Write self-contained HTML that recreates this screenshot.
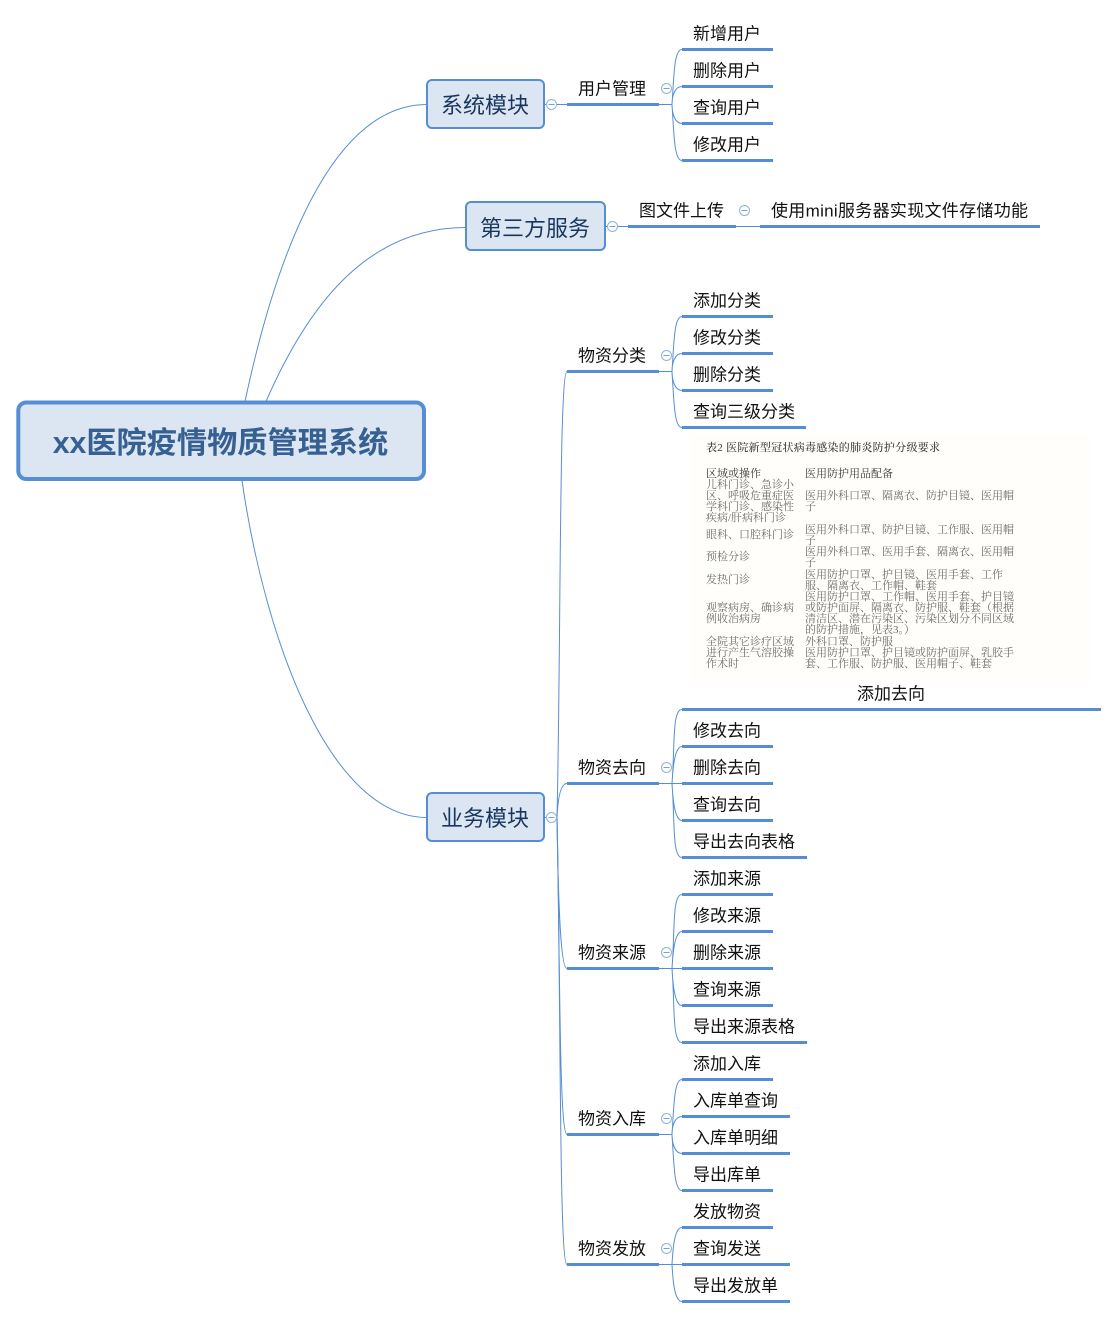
<!DOCTYPE html>
<html lang="zh">
<head>
<meta charset="utf-8">
<style>
html,body{margin:0;padding:0;background:#fff}
svg{display:block}
text{font-family:"Liberation Sans","Noto Sans CJK SC",sans-serif;fill:#111;font-size:17px}
.th{stroke:#558ed5;stroke-width:3;fill:none}
.tn{stroke:#558ed5;stroke-width:1;fill:none}
.box{fill:#dce6f2;stroke:#558ed5;stroke-width:2}
.mod{font-size:22px;fill:#17375e;text-anchor:middle}
.c{fill:#fff;stroke:#8db3e2;stroke-width:1}
.m{stroke:#7d9fcc;stroke-width:1}
.t text{font-family:"Liberation Serif","Noto Serif CJK SC",serif;font-size:11px;fill:#6e6e6e}
.t .h{fill:#3a3a3a}
</style>
</head>
<body>
<svg width="1119" height="1318" viewBox="0 0 1119 1318" xmlns="http://www.w3.org/2000/svg">
<rect x="690" y="434" width="400" height="248" fill="#fffefa"/>

<g transform="translate(0,0.5)">
<!-- root curves -->
<path class="tn" d="M245 401C275 260 330 104 427 104"/>
<path class="tn" d="M266 401C310 300 370 227 466 227"/>
<path class="tn" d="M242 480C265 640 330 817 427 817"/>

<!-- trunk -->
<path class="tn" d="M544 104H567"/>
<path class="tn" d="M605 226H628"/>
<path class="tn" d="M736 226H760"/>
<path class="tn" d="M544 817H557"/>
<path class="tn" d="M557 817C561 640 559 371 567 371"/>
<path class="tn" d="M557 817C558 795 561 783 567 783"/>
<path class="tn" d="M557 817C558 890 560 968 567 968"/>
<path class="tn" d="M557 817C560 950 559 1134 567 1134"/>
<path class="tn" d="M557 817C561 1000 559 1264 567 1264"/>

<!-- group 1 -->
<path class="th" d="M567 104H659M682 49H773M682 86H773M682 123H773M682 160H773"/>
<path class="tn" d="M659 104H672M672 104C674 75 674 49 682 49M672 104C672 95 675 86 682 86M672 104C672 113 675 123 682 123M672 104C674 133 674 160 682 160"/>
<!-- third -->
<path class="th" d="M628 226H736M760 226H1040"/>
<!-- 物资分类 -->
<path class="th" d="M567 371H659M682 316H773M682 353H773M682 390H773M682 427H806"/>
<path class="tn" d="M659 371H672M672 371C674 342 674 316 682 316M672 371C672 362 675 353 682 353M672 371C672 380 675 390 682 390M672 371C674 400 674 427 682 427"/>
<!-- 物资去向 -->
<path class="th" d="M567 783H659M682 709H1101M682 746H773M682 783H773M682 820H773M682 857H807"/>
<path class="tn" d="M659 783H682M672 783C675 745 672 709 682 709M672 783C673 765 675 746 682 746M672 783C673 801 675 820 682 820M672 783C675 821 672 857 682 857"/>
<!-- 物资来源 -->
<path class="th" d="M567 968H659M682 894H773M682 931H773M682 968H773M682 1005H773M682 1042H807"/>
<path class="tn" d="M659 968H682M672 968C675 930 672 894 682 894M672 968C673 950 675 931 682 931M672 968C673 986 675 1005 682 1005M672 968C675 1006 672 1042 682 1042"/>
<!-- 物资入库 -->
<path class="th" d="M567 1134H659M682 1079H773M682 1116H790M682 1153H790M682 1190H773"/>
<path class="tn" d="M659 1134H672M672 1134C674 1105 674 1079 682 1079M672 1134C672 1125 675 1116 682 1116M672 1134C672 1143 675 1153 682 1153M672 1134C674 1163 674 1190 682 1190"/>
<!-- 物资发放 -->
<path class="th" d="M567 1264H659M682 1227H773M682 1264H790M682 1301H790"/>
<path class="tn" d="M659 1264H682M672 1264C673 1245 675 1227 682 1227M672 1264C673 1283 675 1301 682 1301"/>
</g>

<!-- boxes -->
<rect x="18.300" y="402.500" width="405.700" height="76.500" rx="8" fill="#dce6f2" stroke="#558ed5" stroke-width="4"/>
<text x="220.500" y="453" text-anchor="middle" style="font-size:30.200px;font-weight:bold;fill:#366092">xx医院疫情物质管理系统</text>
<rect class="box" x="427" y="80" width="117" height="48" rx="5"/>
<text class="mod" x="485" y="113">系统模块</text>
<rect class="box" x="466" y="202" width="139" height="48" rx="5"/>
<text class="mod" x="535" y="236">第三方服务</text>
<rect class="box" x="427" y="793" width="117" height="48" rx="5"/>
<text class="mod" x="485" y="826">业务模块</text>

<!-- collapse markers -->
<g transform="translate(0.500,0.500)">
<circle class="c" cx="551" cy="104" r="5"/><path class="m" d="M548 104H554"/>
<circle class="c" cx="612" cy="226" r="5"/><path class="m" d="M609 226H615"/>
<circle class="c" cx="551" cy="817" r="5"/><path class="m" d="M548 817H554"/>
<circle class="c" cx="666" cy="88" r="5"/><path class="m" d="M663 88H669"/>
<circle class="c" cx="744" cy="210" r="5"/><path class="m" d="M741 210H747"/>
<circle class="c" cx="666" cy="355" r="5"/><path class="m" d="M663 355H669"/>
<circle class="c" cx="666" cy="767" r="5"/><path class="m" d="M663 767H669"/>
<circle class="c" cx="666" cy="952" r="5"/><path class="m" d="M663 952H669"/>
<circle class="c" cx="666" cy="1118" r="5"/><path class="m" d="M663 1118H669"/>
<circle class="c" cx="666" cy="1248" r="5"/><path class="m" d="M663 1248H669"/>
</g>

<!-- labels -->
<g transform="translate(0,0.500)">
<text x="578" y="94">用户管理</text>
<text x="693" y="39">新增用户</text>
<text x="693" y="76">删除用户</text>
<text x="693" y="113">查询用户</text>
<text x="693" y="150">修改用户</text>
<text x="639" y="216">图文件上传</text>
<text x="771" y="216" textLength="257">使用mini服务器实现文件存储功能</text>
<text x="578" y="361">物资分类</text>
<text x="693" y="306">添加分类</text>
<text x="693" y="343">修改分类</text>
<text x="693" y="380">删除分类</text>
<text x="693" y="417">查询三级分类</text>
<text x="578" y="773">物资去向</text>
<text x="891" y="699" text-anchor="middle">添加去向</text>
<text x="693" y="736">修改去向</text>
<text x="693" y="773">删除去向</text>
<text x="693" y="810">查询去向</text>
<text x="693" y="847">导出去向表格</text>
<text x="578" y="958">物资来源</text>
<text x="693" y="884">添加来源</text>
<text x="693" y="921">修改来源</text>
<text x="693" y="958">删除来源</text>
<text x="693" y="995">查询来源</text>
<text x="693" y="1032">导出来源表格</text>
<text x="578" y="1124">物资入库</text>
<text x="693" y="1069">添加入库</text>
<text x="693" y="1106">入库单查询</text>
<text x="693" y="1143">入库单明细</text>
<text x="693" y="1180">导出库单</text>
<text x="578" y="1254">物资发放</text>
<text x="693" y="1217">发放物资</text>
<text x="693" y="1254">查询发送</text>
<text x="693" y="1291">导出发放单</text>
</g>

<!-- embedded table -->
<g class="t">
<text class="h" x="706" y="451" textLength="234" style="font-weight:500">表2 医院新型冠状病毒感染的肺炎防护分级要求</text>
<text class="h" x="706" y="477">区域或操作</text>
<text x="706" y="488">儿科门诊、急诊小</text>
<text x="706" y="499">区、呼吸危重症医</text>
<text x="706" y="510">学科门诊、感染性</text>
<text x="706" y="521">疾病/肝病科门诊</text>
<text x="706" y="538">眼科、口腔科门诊</text>
<text x="706" y="560">预检分诊</text>
<text x="706" y="583">发热门诊</text>
<text x="706" y="611">观察病房、确诊病</text>
<text x="706" y="622">例收治病房</text>
<text x="706" y="645">全院其它诊疗区域</text>
<text x="706" y="656">进行产生气溶胶操</text>
<text x="706" y="667">作术时</text>
<text class="h" x="805" y="477">医用防护用品配备</text>
<text x="805" y="499">医用外科口罩、隔离衣、防护目镜、医用帽</text>
<text x="805" y="510">子</text>
<text x="805" y="533">医用外科口罩、防护目镜、工作服、医用帽</text>
<text x="805" y="544">子</text>
<text x="805" y="555">医用外科口罩、医用手套、隔离衣、医用帽</text>
<text x="805" y="566">子</text>
<text x="805" y="578">医用防护口罩、护目镜、医用手套、工作</text>
<text x="805" y="589">服、隔离衣、工作帽、鞋套</text>
<text x="805" y="600">医用防护口罩、工作帽、医用手套、护目镜</text>
<text x="805" y="611">或防护面屏、隔离衣、防护服、鞋套（根据</text>
<text x="805" y="622">清洁区、潜在污染区、污染区划分不同区域</text>
<text x="805" y="633">的防护措施，见表3。）</text>
<text x="805" y="645">外科口罩、防护服</text>
<text x="805" y="656">医用防护口罩、护目镜或防护面屏、乳胶手</text>
<text x="805" y="667">套、工作服、防护服、医用帽子、鞋套</text>
</g>
</svg>
</body>
</html>
